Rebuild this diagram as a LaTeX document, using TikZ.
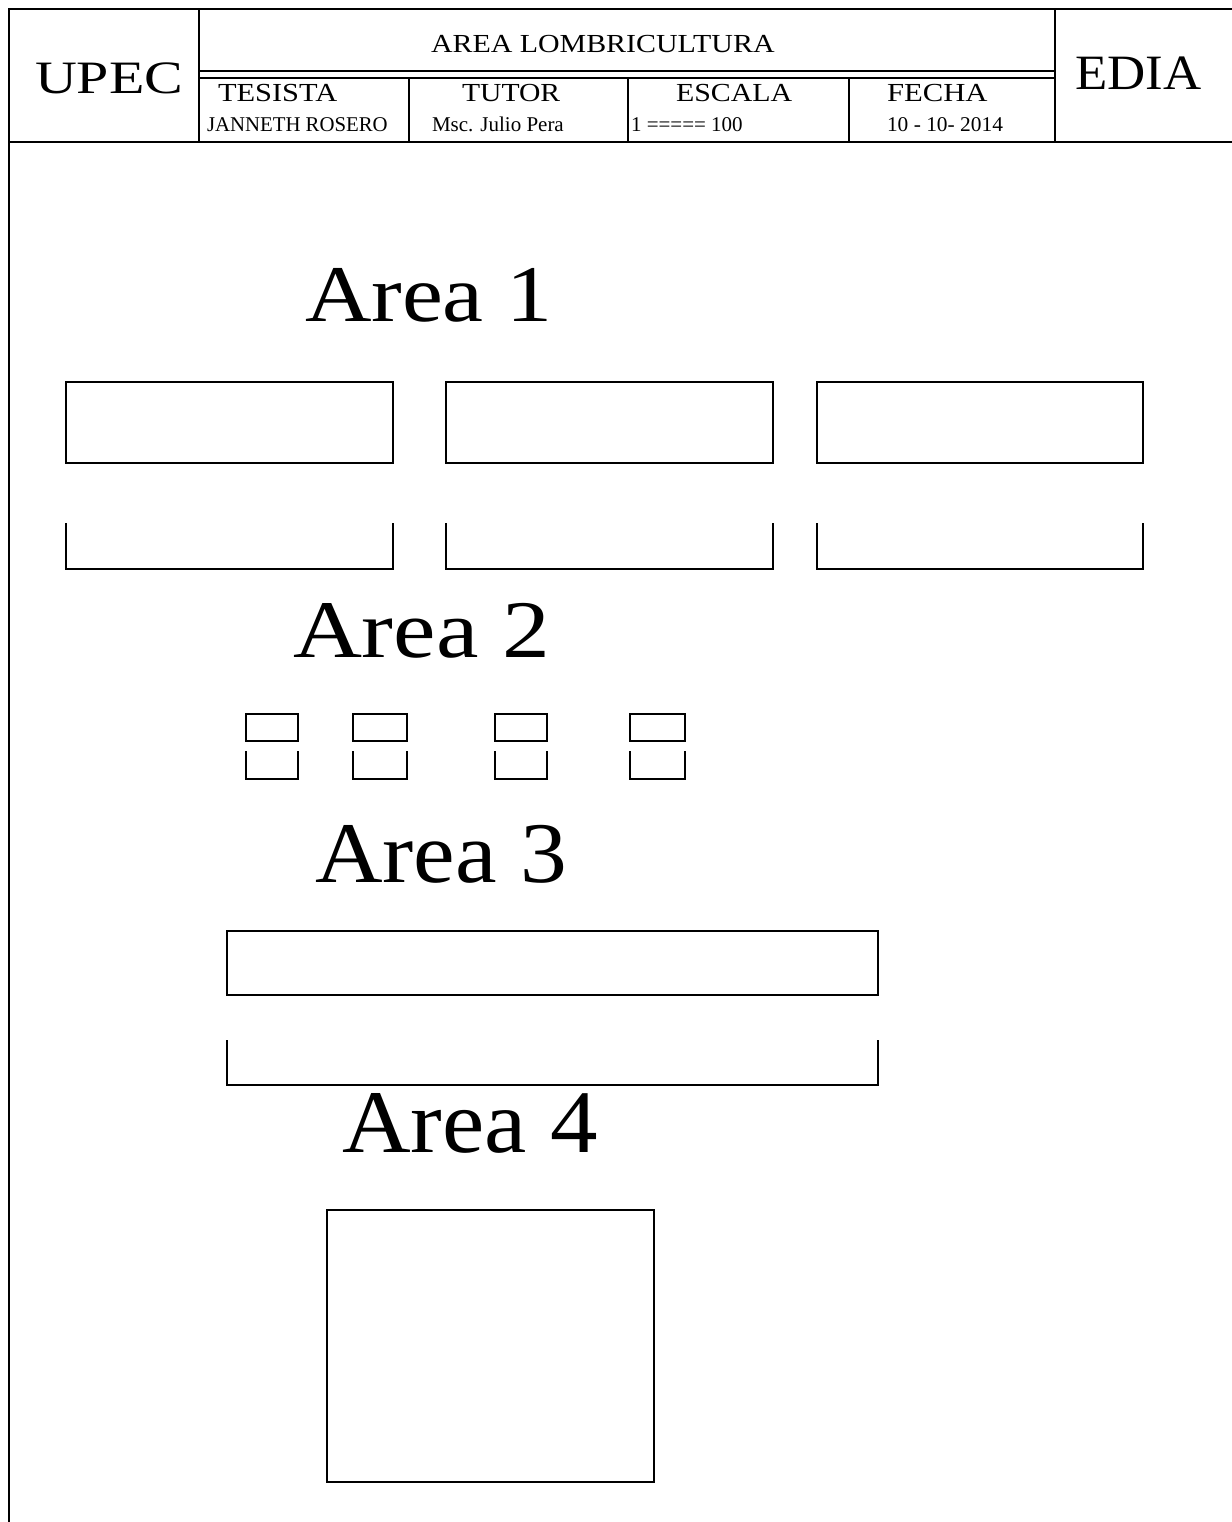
\documentclass[tikz,border=0pt]{standalone}
\usepackage{fontspec}
\usepackage{graphicx}
\setmainfont{Liberation Serif}
\begin{document}
\begin{tikzpicture}[x=0.5pt,y=-0.5pt,
  frame/.style={line width=1pt},
  txt/.style={anchor=base west, inner sep=0pt, outer sep=0pt},
  headtxt/.style={txt, font=\fontsize{13}{15}\selectfont},
  smalltxt/.style={txt, font=\fontsize{10.5}{12}\selectfont}]
\useasboundingbox (0,0) rectangle (1232,1522);
% title block frame
\draw[frame] (1232,9) -- (9,9) -- (9,1522);
\draw[frame] (9,142) -- (1232,142);
\draw[frame] (199,9) -- (199,142);
\draw[frame] (1055,9) -- (1055,142);
\draw[frame] (199,71) -- (1055,71);
\draw[frame] (199,78) -- (1055,78);
\draw[frame] (409,78) -- (409,142);
\draw[frame] (628,78) -- (628,142);
\draw[frame] (849,78) -- (849,142);
% title block texts
\node[txt, font=\fontsize{23.2}{28}\selectfont] (upec) at (35,93.5) {\scalebox{1.25}[1]{UPEC}};
\node[txt, font=\fontsize{24.7}{28}\selectfont] (edia) at (1075,89.5) {\scalebox{1.07}[1]{EDIA}};
\node[headtxt] (area) at (431,52) {\scalebox{1.15}[1]{AREA LOMBRICULTURA}};
\node[headtxt] (tesista) at (218,101.5) {\scalebox{1.17}[1]{TESISTA}};
\node[headtxt] (tutor) at (462,101.5) {\scalebox{1.14}[1]{TUTOR}};
\node[headtxt] (escala) at (676,101.5) {\scalebox{1.15}[1]{ESCALA}};
\node[headtxt] (fecha) at (887,101.5) {\scalebox{1.18}[1]{FECHA}};
\node[smalltxt] (jr) at (207,131) {\scalebox{0.99}[1]{JANNETH ROSERO}};
\node[smalltxt] (jp) at (432,131) {Msc. Julio Pera};
\node[smalltxt] (esc) at (631,131) {1 ===== 100};
\node[smalltxt] (fch) at (887,131) {\scalebox{1.02}[1]{10 - 10- 2014}};
% Area 1
\node[txt, font=\fontsize{40.2}{48}\selectfont] (a1) at (305,321) {\scalebox{1.145}[1]{Area 1}};
\draw[frame] (66,382) rectangle (393,463);
\draw[frame] (446,382) rectangle (773,463);
\draw[frame] (817,382) rectangle (1143,463);
\draw[frame] (66,523) -- (66,569) -- (393,569) -- (393,523);
\draw[frame] (446,523) -- (446,569) -- (773,569) -- (773,523);
\draw[frame] (817,523) -- (817,569) -- (1143,569) -- (1143,523);
% Area 2
\node[txt, font=\fontsize{40.9}{48}\selectfont] (a2) at (293,657) {\scalebox{1.168}[1]{Area 2}};
\foreach \l/\r in {246/298,353/407,495/547,630/685}{
  \draw[frame] (\l,714) rectangle (\r,741);
  \draw[frame] (\l,751) -- (\l,779) -- (\r,779) -- (\r,751);
}
% Area 3
\node[txt, font=\fontsize{43.2}{50}\selectfont] (a3) at (315,882) {\scalebox{1.083}[1]{Area 3}};
\draw[frame] (227,931) rectangle (878,995);
\draw[frame] (227,1040) -- (227,1085) -- (878,1085) -- (878,1040);
% Area 4
\node[txt, font=\fontsize{44.7}{52}\selectfont] (a4) at (342,1152) {\scalebox{1.063}[1]{Area 4}};
\draw[frame] (327,1210) rectangle (654,1482);
\end{tikzpicture}
\end{document}
